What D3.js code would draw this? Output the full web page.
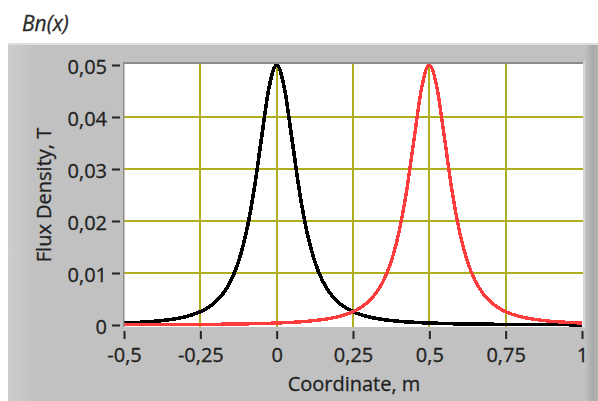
<!DOCTYPE html>
<html><head><meta charset="utf-8">
<script src="https://cdn.jsdelivr.net/npm/d3@7"></script>
<style>body{margin:0;background:#fff;} svg{display:block}</style>
</head><body><svg id="c" width="598" height="401"></svg>
<script>
// Coordinate, m
const xValues = [-0.5,-0.475,-0.45,-0.425,-0.4,-0.375,-0.35,-0.325,-0.3,-0.275,-0.25,-0.225,-0.2,-0.175,-0.15,-0.125,-0.1,-0.075,-0.05,-0.025,0,
  0.025,0.05,0.075,0.1,0.125,0.15,0.175,0.2,0.225,0.25,0.275,0.3,0.325,0.35,0.375,0.4,0.425,0.45,0.475,0.5,
  0.525,0.55,0.575,0.6,0.625,0.65,0.675,0.7,0.725,0.75,0.775,0.8,0.825,0.85,0.875,0.9,0.925,0.95,0.975,1.0];
// Flux density, T (black curve, centred at 0)
const blackValues = [0.00038,0.00044,0.00051,0.0006,0.00071,0.00086,0.00104,0.00127,0.00158,0.002,0.00256,0.00335,0.00447,0.00611,0.00853,0.01219,0.01768,0.0256,0.03578,0.04565,0.05,
  0.04565,0.03578,0.0256,0.01768,0.01219,0.00853,0.00611,0.00447,0.00335,0.00256,0.002,0.00158,0.00127,0.00104,0.00086,0.00071,0.0006,0.00051,0.00044,0.00038,
  0.00033,0.00029,0.00025,0.00022,0.0002,0.00018,0.00016,0.00014,0.00013,0.00012,0.00011,0.0001,0.00009,0.00008,0.00007,0.00007,0.00006,0.00006,0.00005,0.00005];
// Flux density, T (red curve, centred at 0.5)
const redValues = [0.00005,0.00005,0.00006,0.00006,0.00007,0.00007,0.00008,0.00009,0.0001,0.00011,0.00012,0.00013,0.00014,0.00016,0.00018,0.0002,0.00022,0.00025,0.00029,0.00033,
  0.00038,0.00044,0.00051,0.0006,0.00071,0.00086,0.00104,0.00127,0.00158,0.002,0.00256,0.00335,0.00447,0.00611,0.00853,0.01219,0.01768,0.0256,0.03578,0.04565,0.05,
  0.04565,0.03578,0.0256,0.01768,0.01219,0.00853,0.00611,0.00447,0.00335,0.00256,0.002,0.00158,0.00127,0.00104,0.00086,0.00071,0.0006,0.00051,0.00044,0.00038];
const xTicks = [-0.5,-0.25,0,0.25,0.5,0.75,1];
const xTickLabels = ["-0,5","-0,25","0","0,25","0,5","0,75","1"];
const yTicks = [0,0.01,0.02,0.03,0.04,0.05];
const yTickLabels = ["0","0,01","0,02","0,03","0,04","0,05"];

const svg = d3.select("#c");
const FONT = "'Open Sans', sans-serif";
const TXT = "#1f1f1f";
const defs = svg.append("defs");
const lg = defs.append("linearGradient").attr("id","lg").attr("x1",0).attr("x2",1).attr("y1",0).attr("y2",0);
lg.append("stop").attr("offset","0%").attr("stop-color","#cdcdcd");
lg.append("stop").attr("offset","100%").attr("stop-color","#c3c3c3");
const rg = defs.append("linearGradient").attr("id","rg").attr("x1",0).attr("x2",1).attr("y1",0).attr("y2",0);
rg.append("stop").attr("offset","0%").attr("stop-color","#bdbdbd");
rg.append("stop").attr("offset","60%").attr("stop-color","#a9a9a9");
rg.append("stop").attr("offset","100%").attr("stop-color","#b4b4b4");

// panel
svg.append("rect").attr("x",8).attr("y",43).attr("width",590).attr("height",358).attr("fill","#c1c1c1");
svg.append("rect").attr("x",8).attr("y",43).attr("width",25).attr("height",358).attr("fill","url(#lg)");
svg.append("rect").attr("x",586).attr("y",43).attr("width",12).attr("height",358).attr("fill","url(#rg)");
svg.append("rect").attr("x",8).attr("y",43).attr("width",590).attr("height",2).attr("fill","#dedede");

// title
svg.append("text").attr("x",22).attr("y",31).attr("font-family",FONT).attr("font-style","italic")
  .attr("font-size",21).attr("fill","#2a2a2a").attr("stroke","#2a2a2a").attr("stroke-width",0.3).text("Bn(x)");

const x = d3.scaleLinear().domain([-0.5,1]).range([124,582]);
const y = d3.scaleLinear().domain([0,0.05]).range([325,65]);

// plot area
svg.append("rect").attr("x",124).attr("y",63).attr("width",459).attr("height",264).attr("fill","#ffffff");
defs.append("clipPath").attr("id","clip").append("rect").attr("x",124).attr("y",63).attr("width",459).attr("height",264);

const grid = svg.append("g").attr("clip-path","url(#clip)");
grid.selectAll(".vg").data(xTicks.slice(1,-1)).join("line")
  .attr("x1",d=>Math.round(x(d))).attr("x2",d=>Math.round(x(d))).attr("y1",63).attr("y2",327)
  .attr("stroke","#aeae1e").attr("stroke-width",2);
grid.selectAll(".hg").data(yTicks.slice(1,-1)).join("line")
  .attr("y1",d=>Math.round(y(d))).attr("y2",d=>Math.round(y(d))).attr("x1",124).attr("x2",583)
  .attr("stroke","#aeae1e").attr("stroke-width",2);

const line = d3.line().x((d,i)=>x(xValues[i])).y(d=>y(d)).curve(d3.curveMonotoneX);
const plots = svg.append("g").attr("clip-path","url(#clip)");
plots.append("path").datum(blackValues).attr("d",line).attr("fill","none")
  .attr("stroke","#000").attr("stroke-width",3.6).attr("stroke-linejoin","round").attr("shape-rendering","crispEdges");
plots.append("path").datum(redValues).attr("d",line).attr("fill","none")
  .attr("stroke","#ff3c3c").attr("stroke-width",3.4).attr("stroke-linejoin","round").attr("shape-rendering","crispEdges");

// frame
svg.append("rect").attr("x",123).attr("y",62).attr("width",460).attr("height",2).attr("fill","#8c8c8c");
svg.append("rect").attr("x",123).attr("y",62).attr("width",1.5).attr("height",265).attr("fill","#8c8c8c");
svg.append("rect").attr("x",583).attr("y",62).attr("width",2).attr("height",266).attr("fill","#d6d6d6");

// axes
const xa = svg.append("g").attr("transform","translate(0,331)")
  .call(d3.axisBottom(x).tickValues(xTicks).tickFormat((d,i)=>xTickLabels[i]).tickSize(8).tickPadding(9));
const ya = svg.append("g").attr("transform","translate(120,0)")
  .call(d3.axisLeft(y).tickValues(yTicks).tickFormat((d,i)=>yTickLabels[i]).tickSize(8).tickPadding(5));
[xa,ya].forEach(g=>{
  g.select(".domain").remove();
  g.selectAll(".tick line").attr("stroke","#222").attr("stroke-width",2);
  g.selectAll(".tick text").attr("font-family",FONT).attr("font-size",20).attr("fill",TXT)
    .attr("stroke",TXT).attr("stroke-width",0.3);
});
ya.selectAll(".tick text").attr("dy","0.42em");

svg.append("text").attr("x",354).attr("y",391).attr("text-anchor","middle").attr("font-family",FONT)
  .attr("font-size",20).attr("fill",TXT).attr("stroke",TXT).attr("stroke-width",0.3).text("Coordinate, m");
svg.append("text").attr("transform","translate(51,195) rotate(-90)").attr("text-anchor","middle").attr("font-family",FONT)
  .attr("font-size",20).attr("fill",TXT).attr("stroke",TXT).attr("stroke-width",0.3).text("Flux Density, T");
</script></body></html>
